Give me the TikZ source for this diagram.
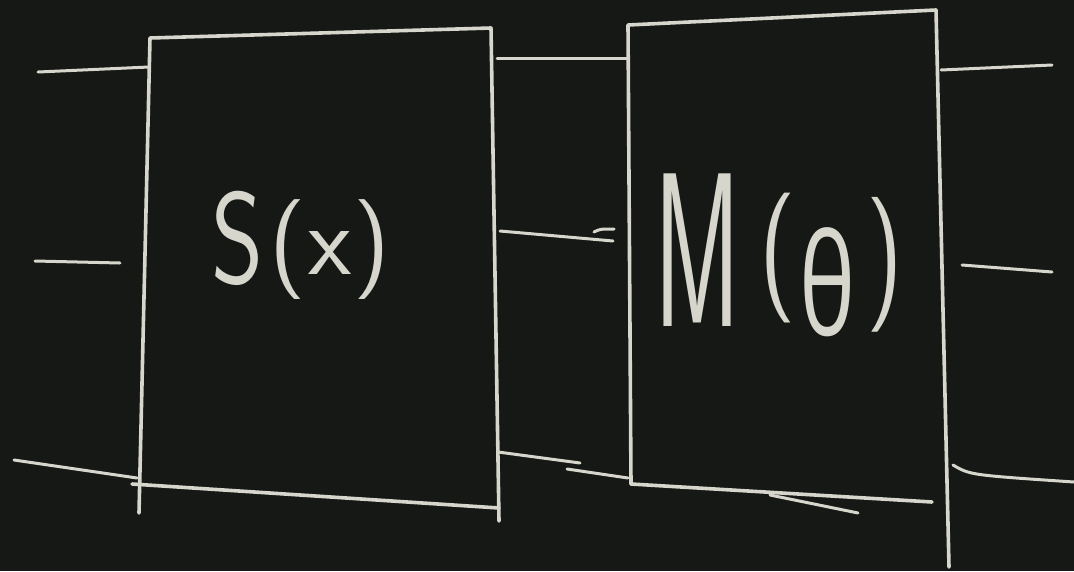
\documentclass[tikz,border=0pt]{standalone}
\usepackage{fontspec}
\newfontfamily\greekfont{Open Sans}
\definecolor{board}{RGB}{22,24,21}
\definecolor{chalk}{RGB}{214,214,204}
\begin{document}
\begin{tikzpicture}[x=1pt,y=-1pt,
  chalkline/.style={draw=chalk,line width=3.6pt,line cap=round,line join=round},
  thinchalk/.style={draw=chalk,line width=3pt,line cap=round},
  glyph/.style={text=chalk,inner sep=0pt,font=\fontsize{100}{100}\selectfont\sffamily}]
\fill[board] (0,0) rectangle (1074,571);
\useasboundingbox (0,0) rectangle (1074,571);
% box S corners
\coordinate (sTL) at (150,38);
\coordinate (sTR) at (491,28);
\coordinate (sBR) at (499,521);
\coordinate (sBL) at (139,513);
\coordinate (sB1) at (132,484);
\coordinate (sB2) at (499,508);
% box M corners
\coordinate (mTL) at (628,25);
\coordinate (mTR) at (936,10);
\coordinate (mBR) at (949,567);
\coordinate (mBL) at (631,484);
\coordinate (mB2) at (932,502);
% box S outline
\draw[chalkline] (sBL) -- (sTL) -- (sTR) -- (sBR);
\draw[chalkline] (sB1) -- (sB2);
% box M outline
\draw[chalkline] (mBL) -- (mTL) -- (mTR) -- (mBR);
\draw[chalkline] (mBL) -- (mB2);
\coordinate (mx1) at (770,495);
\coordinate (mx2) at (858,513);
\draw[thinchalk] (mx1) -- (mx2);
% wires left
\coordinate (l1) at (38,72);  \coordinate (l1e) at (149,67);
\coordinate (l2) at (35,261); \coordinate (l2e) at (120,263);
\coordinate (l3) at (14,460); \coordinate (l3e) at (137,478);
\draw[thinchalk] (l1) -- (l1e);
\draw[thinchalk] (l2) -- (l2e);
\draw[thinchalk] (l3) -- (l3e);
% wires between
\coordinate (c1) at (497,58);  \coordinate (c1e) at (628,58);
\coordinate (c2) at (500,231); \coordinate (c2e) at (613,241);
\coordinate (c2t) at (594,232); \coordinate (c2u) at (614,229);
\coordinate (c3) at (498,452); \coordinate (c3e) at (580,463);
\coordinate (c4) at (567,469); \coordinate (c4e) at (628,478);
\draw[thinchalk] (c1) -- (c1e);
\draw[thinchalk] (c2) -- (c2e);
\draw[thinchalk] (c2t) .. controls (600,229) .. (c2u);
\draw[thinchalk] (c3) -- (c3e);
\draw[thinchalk] (c4) -- (c4e);
% wires right
\coordinate (r1) at (941,70);  \coordinate (r1e) at (1052,65);
\coordinate (r2) at (962,265); \coordinate (r2e) at (1052,272);
\coordinate (r3) at (953,465); \coordinate (r3e) at (1074,482);
\draw[thinchalk] (r1) -- (r1e);
\draw[thinchalk] (r2) -- (r2e);
\draw[thinchalk] (r3) .. controls (970,475) .. (r3e);
% labels
\node[glyph,yscale=1.3] (S) at (238,238) {S};
\node[glyph,yscale=1.0] (Sx) at (330,250) {(\kern2pt x\kern2pt)};
\node[glyph,xscale=1.05,yscale=2.2] (M) at (698,250) {M};
\node[glyph,yscale=1.3] (Mo) at (778,258) {(};
\node[text=chalk,inner sep=0pt,font=\fontsize{100}{100}\selectfont\greekfont,xscale=0.95,yscale=1.4] (Mt) at (828,282) {θ};
\node[glyph,yscale=1.35] (Mc) at (885,265) {)};
\end{tikzpicture}
\end{document}
